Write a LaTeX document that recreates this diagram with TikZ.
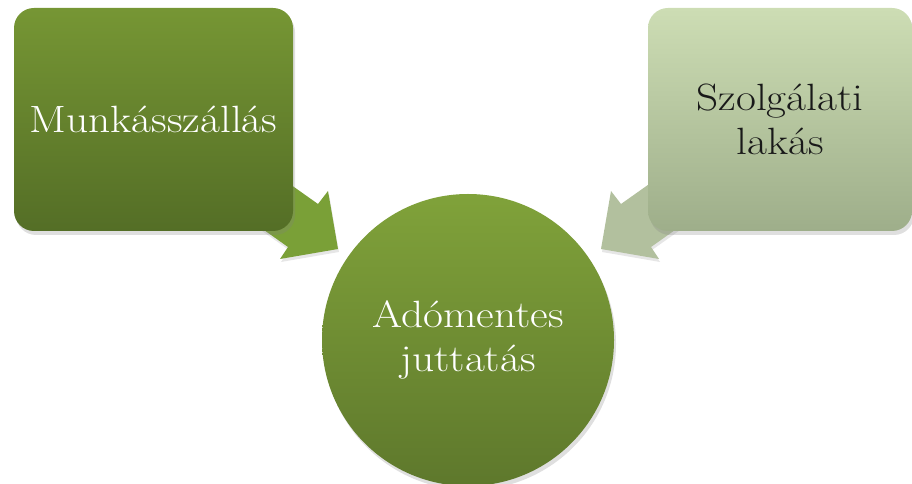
\documentclass[tikz,border=0pt]{standalone}
\usepackage{fontspec}
\setmainfont{Latin Modern Roman}[FakeStretch=1.14]
\usetikzlibrary{shadows}
\definecolor{darkgreenTop}{RGB}{118,150,52}
\definecolor{darkgreenBot}{RGB}{84,110,38}
\definecolor{hubTop}{RGB}{128,162,58}
\definecolor{hubBot}{RGB}{94,120,44}
\definecolor{paleTop}{RGB}{205,221,180}
\definecolor{paleBot}{RGB}{158,174,138}
\definecolor{arrowDark}{RGB}{122,160,55}
\definecolor{arrowPale}{RGB}{178,192,158}
\newcommand{\bigtext}{\fontsize{38}{44}\selectfont}
\begin{document}
\begin{tikzpicture}[x=1pt,y=1pt]
    % styles
    \tikzset{benefit/.style={rectangle,rounded corners=20pt,minimum width=279pt,minimum height=223pt,
                             inner sep=0pt,align=center,font=\bigtext,
                             drop shadow={shadow xshift=2pt,shadow yshift=-4pt,opacity=.25}},
             hub/.style={circle,minimum size=292pt,inner sep=0pt,align=center,text=white,
                         top color=hubTop,bottom color=hubBot,font=\bigtext,
                         drop shadow={shadow xshift=2pt,shadow yshift=-4pt,opacity=.25}},
             blockarrow/.style={draw=none,drop shadow={shadow xshift=1pt,shadow yshift=-3pt,opacity=.2}}}
    \useasboundingbox (0,0) rectangle (912,484);

    % arrows (under the boxes)
    \fill[blockarrow,arrowDark] (338,235) -- (328,293) -- (318,280) -- (270,314) -- (240,271)
        -- (288,237) -- (280,225) -- cycle;
    \fill[blockarrow,arrowPale] (601,235) -- (611,293) -- (621,280) -- (669,314) -- (699,271)
        -- (651,237) -- (659,225) -- cycle;

    % nodes
    \node[benefit,text=white,top color=darkgreenTop,bottom color=darkgreenBot] (work) at (153.5,364.5) {Munkásszállás};
    \node[benefit,text=black!90,top color=paleTop,bottom color=paleBot,minimum width=264pt] (flat) at (780,364.5) {Szolgálati\\lakás};
    \node[hub] (taxfree) at (468,144) {Adómentes\\juttatás};
\end{tikzpicture}
\end{document}
